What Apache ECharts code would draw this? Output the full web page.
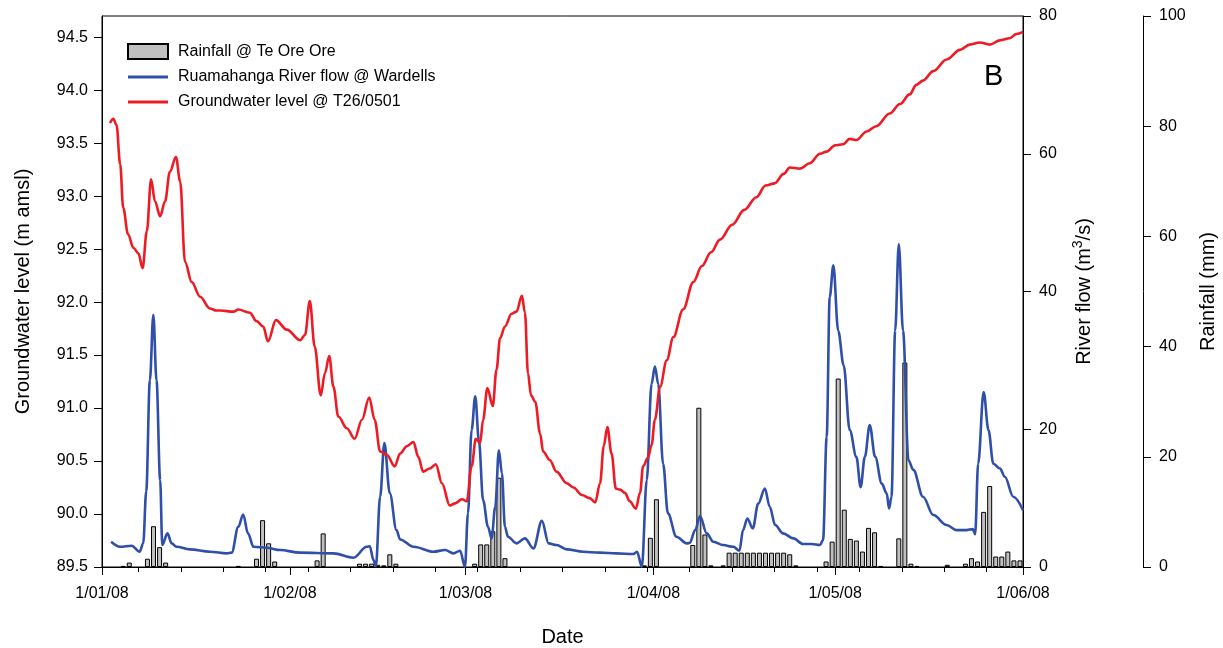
<!DOCTYPE html>
<html>
<head>
<meta charset="utf-8">
<script src="https://cdn.jsdelivr.net/npm/echarts@6/dist/echarts.min.js"></script>
<style>
  html, body { margin: 0; padding: 0; background: #ffffff; }
  #chart { width: 1223px; height: 648px; }
</style>
</head>
<body>
<div id="chart"></div>
<script>
// x values are days elapsed since 1 January 2008 (00:00)

// Daily rainfall at Te Ore Ore (mm), days with rain only
const rainDates = [
  '2008-01-04','2008-01-05','2008-01-08','2008-01-09','2008-01-10','2008-01-11',
  '2008-01-23','2008-01-26','2008-01-27','2008-01-28','2008-01-29',
  '2008-02-05','2008-02-06','2008-02-12','2008-02-13','2008-02-14','2008-02-15',
  '2008-02-16','2008-02-17','2008-02-18',
  '2008-03-02','2008-03-03','2008-03-04','2008-03-05','2008-03-06','2008-03-07',
  '2008-03-30','2008-03-31',
  '2008-04-01','2008-04-07','2008-04-08','2008-04-09','2008-04-10','2008-04-12',
  '2008-04-13','2008-04-14','2008-04-15','2008-04-16','2008-04-17','2008-04-18',
  '2008-04-19','2008-04-20','2008-04-21','2008-04-22','2008-04-23','2008-04-24',
  '2008-04-29','2008-04-30',
  '2008-05-01','2008-05-02','2008-05-03','2008-05-04','2008-05-05','2008-05-06',
  '2008-05-07','2008-05-08','2008-05-11','2008-05-12','2008-05-13','2008-05-14',
  '2008-05-19','2008-05-22','2008-05-23','2008-05-24','2008-05-25','2008-05-26',
  '2008-05-27','2008-05-28','2008-05-29','2008-05-30','2008-05-31'
];
const rainMm = [
  0.2, 0.8, 1.5, 7.4, 3.6, 0.8,
  0.2, 1.5, 8.5, 4.3, 1.0,
  1.2, 6.1, 0.6, 0.6, 0.6, 0.4,
  0.3, 2.3, 0.6,
  0.6, 4.1, 4.1, 6.5, 16.2, 1.6,
  0.3, 5.3,
  12.3, 4.0, 28.9, 5.9, 0.3, 0.3,
  2.6, 2.6, 2.6, 2.6, 2.6, 2.6,
  2.6, 2.6, 2.6, 2.6, 2.3, 0.3,
  1.0, 4.6,
  34.2, 10.4, 5.1, 4.8, 2.8, 7.1,
  6.3, 0.2, 5.2, 37.1, 0.6, 0.2,
  0.4, 0.6, 1.6, 1.0, 10.0, 14.7,
  1.9, 1.9, 2.8, 1.2, 1.2
];

// Ruamahanga River flow at Wardells (m3/s)
const flowDay = [
  1.5, 3.0, 4.9, 6.2, 6.8, 7.3, 7.9, 8.47, 9.0, 9.6, 9.95, 10.8, 11.5, 12.3, 14.5,
  17.8, 20.6, 21.4, 22.5, 23.3, 24.1, 25.0, 27.2, 29.4, 32.7, 38.2, 41.5, 43.7,
  44.2, 44.8, 45.2, 45.9, 46.6, 47.5, 48.6, 49.2, 51.4, 54.7, 56.6, 58.0, 59.1,
  59.9, 60.4, 61.0, 61.6, 62.2, 62.9, 63.7, 64.3, 64.9, 65.5, 66.0, 66.5, 67.0,
  68.4, 69.8, 71.2, 72.6, 73.7, 75.0, 76.7, 79.4, 82.2, 84.9, 87.7, 88.3, 89.1,
  89.9, 90.7, 91.25, 91.8, 92.6, 93.4, 94.8, 96.5, 97.0, 97.9, 98.7, 99.8, 100.9,
  102.5, 104.2, 105.2, 105.8, 106.5, 107.4, 108.3, 109.4, 110.2, 111.1, 112.4,
  114.1, 115.7, 117.1, 118.5, 119.0, 119.6, 120.1, 120.7, 121.5, 122.4, 123.4,
  124.5, 125.2, 125.9, 126.7, 127.6, 128.7, 129.5, 129.9, 130.3, 130.9, 131.5,
  132.2, 133.1, 133.9, 135.5, 137.2, 139.4, 141.0, 142.7, 143.7, 144.1, 144.6,
  145.5, 146.3, 147.1, 148.2, 149.0, 150.4, 152.0
];
const flowVal = [
  3.67, 2.94, 3.09, 2.22, 3.43, 11.0, 27.1, 36.6, 27.1, 12.6, 3.19, 4.88, 3.43, 2.94, 2.56,
  2.22, 1.98, 2.08, 5.84, 7.63, 4.88, 2.94, 2.80, 2.46, 2.08, 1.98, 1.35, 2.94,
  3.00, 1.01, 0.10, 10.2, 18.0, 10.7, 5.36, 4.0, 2.94, 2.22, 2.46, 1.98, 2.37,
  0.05, 7.78, 19.9, 24.8, 18.4, 9.7, 5.84, 4.15, 8.74, 16.96, 13.6, 5.84, 4.4,
  3.43, 4.15, 2.70, 6.70, 3.43, 3.19, 2.56, 2.22, 2.08, 1.98, 1.88, 2.22, 0.05,
  12.6, 26.6, 29.1, 26.6, 15.0, 7.78, 4.40, 3.43, 3.50, 5.36, 7.40, 4.88, 3.67,
  3.19, 2.94, 2.37, 5.36, 7.05, 5.60, 9.20, 11.4, 8.74, 6.09, 4.88,
  4.15, 3.33, 3.33, 3.19, 3.91, 18.9, 39.2, 43.8, 34.3, 29.3, 19.9,
  16.0, 11.6, 16.0, 20.6, 16.0, 12.1, 10.7, 8.5, 10.2, 34.3, 46.9,
  34.3, 15.5, 14.1, 10.2, 7.54, 6.09, 5.36, 5.36, 5.50, 4.78, 15.0,
  25.4, 19.9, 15.0, 14.3, 13.1, 10.2, 8.26
];

// Groundwater level at T26/0501 (m amsl)
const gwDay = [
  1.32, 1.87, 2.4, 3.0, 3.5, 4.3, 5.2, 6.0, 6.7, 7.4, 8.1, 8.75, 9.6, 10.4, 11.2,
  12.2, 12.9, 13.7, 14.8, 16.2, 17.8, 18.9, 19.5, 21.7, 22.5, 24.4, 25.5, 26.6,
  27.4, 28.7, 30.5, 32.7, 33.5, 34.3, 35.1, 36.1, 36.8, 37.5, 38.2, 39.0, 40.4,
  41.7, 42.9, 44.1, 45.0, 45.9, 47.0, 48.3, 49.2, 50.3, 51.4, 52.2, 53.0, 54.1,
  55.1, 56.1, 57.4, 58.3, 59.4, 60.2, 61.0, 61.7, 62.4, 62.9, 63.6, 64.5, 65.1,
  65.7, 66.5, 67.6, 68.4, 69.3, 69.8, 70.3, 70.8, 71.5, 72.3, 72.8, 73.9, 75.0,
  76.7, 77.8, 79.2, 80.5, 81.4, 82.2, 82.8, 83.4, 84.1, 84.8, 85.5, 86.3, 87.1,
  88.1, 88.8, 89.3, 90.1, 90.7, 91.25, 92.1, 93.2, 94.3, 95.9, 97.6, 99.0, 100.5,
  102.0, 104.0, 106.0, 108.0, 109.5, 111.0, 112.5, 113.5, 115.2, 116.8, 118.5,
  119.6, 121.0, 122.3, 123.4, 124.5, 126.2, 127.8, 130.0, 131.7, 133.3, 134.4,
  135.5, 137.2, 139.4, 141.6, 143.2, 144.9, 146.5, 148.2, 149.8, 150.9, 152.0
];
const gwVal = [
  93.69, 93.73, 93.67, 93.30, 92.89, 92.64, 92.51, 92.46, 92.32, 92.67, 93.16, 92.95, 92.81, 92.95, 93.23,
  93.37, 93.14, 92.38, 92.19, 92.05, 91.94, 91.92, 91.92, 91.91, 91.93, 91.90, 91.82, 91.77,
  91.63, 91.83, 91.74, 91.64, 91.69, 92.01, 91.58, 91.12, 91.33, 91.49, 91.20, 90.92, 90.81,
  90.71, 90.89, 91.10, 90.89, 90.59, 90.56, 90.45, 90.57, 90.64, 90.68, 90.54, 90.40, 90.43,
  90.47, 90.29, 90.08, 90.10, 90.14, 90.12, 90.45, 90.71, 90.67, 90.89, 91.19, 91.02, 91.36,
  91.66, 91.77, 91.89, 91.91, 92.06, 91.90, 91.33, 91.12, 91.06, 90.76, 90.59, 90.51, 90.40,
  90.29, 90.25, 90.18, 90.15, 90.11, 90.29, 90.64, 90.82, 90.57, 90.24, 90.23, 90.20, 90.12,
  90.05, 90.20, 90.45, 90.53, 90.65, 90.89, 91.20, 91.45, 91.67, 91.93, 92.19, 92.34, 92.47,
  92.59, 92.73, 92.87, 92.99, 93.10, 93.12, 93.21, 93.27, 93.26, 93.31, 93.40,
  93.42, 93.48, 93.49, 93.54, 93.53, 93.61, 93.66, 93.78, 93.87, 93.96, 94.05,
  94.09, 94.18, 94.29, 94.38, 94.43, 94.45, 94.43, 94.47, 94.49, 94.53, 94.55
];

// Axis ticks
const monthDays = [0, 31, 60, 91, 121, 152];
const monthLabels = ['1/01/08', '1/02/08', '1/03/08', '1/04/08', '1/05/08', '1/06/08'];
const weekDays = [6, 13, 20, 27, 34, 41, 48, 55, 62, 69, 76, 83, 90, 97, 104, 111, 118, 125, 132, 139, 146];
const gwTicks = [89.5, 90.0, 90.5, 91.0, 91.5, 92.0, 92.5, 93.0, 93.5, 94.0, 94.5];

const FONT = "'Liberation Sans', Arial, Helvetica, sans-serif";
const DAY0 = Date.UTC(2008, 0, 1);
function dayIndex(s) {
  const p = s.split('-').map(Number);
  return (Date.UTC(p[0], p[1] - 1, p[2]) - DAY0) / 86400000;
}
const zip = (xs, ys) => xs.map((x, i) => [x, ys[i]]);

// each day's rainfall bar sits in the middle of its day
const rainData = rainDates.map((d, i) => [dayIndex(d) + 0.5, rainMm[i]]);

const chart = echarts.init(document.getElementById('chart'), null, { renderer: 'canvas' });

const axisLineStyle = { show: true, onZero: false, lineStyle: { color: '#000', width: 1 } };
const tickStyle = { color: '#000', width: 1 };
const labelStyle = { color: '#000', fontSize: 16, fontFamily: FONT };
const nameStyle = { color: '#000', fontSize: 20, fontFamily: FONT };
const lineIcon = 'path://M0,0H40V3H0Z';

chart.setOption({
  animation: false,
  backgroundColor: '#ffffff',
  textStyle: { fontFamily: FONT },
  grid: {
    left: 102, right: 200, top: 16, bottom: 81,
    outerBoundsMode: 'none', containLabel: false,
    show: true, borderColor: '#000', borderWidth: 1, backgroundColor: 'transparent'
  },
  legend: {
    orient: 'vertical',
    left: 127, top: 43, padding: 0,
    itemWidth: 40, itemHeight: 15, itemGap: 9,
    symbolKeepAspect: true,
    textStyle: { color: '#000', fontSize: 16, fontFamily: FONT, padding: [0, 0, 0, 5] },
    data: [
      { name: 'Rainfall @ Te Ore Ore', icon: 'rect' },
      { name: 'Ruamahanga River flow @ Wardells', icon: lineIcon },
      { name: 'Groundwater level @ T26/0501', icon: lineIcon }
    ]
  },
  xAxis: [
    {
      type: 'value', min: 0, max: 152, position: 'bottom',
      axisLine: axisLineStyle,
      axisTick: { show: true, customValues: monthDays, length: 8, lineStyle: tickStyle },
      axisLabel: {
        show: true, customValues: monthDays, margin: 19, ...labelStyle,
        formatter: v => monthLabels[monthDays.indexOf(v)] || ''
      },
      splitLine: { show: false },
      name: 'Date', nameLocation: 'middle', nameGap: 60, nameTextStyle: nameStyle
    },
    {
      type: 'value', min: 0, max: 152, position: 'bottom', offset: 0,
      axisLine: { show: false, onZero: false },
      axisTick: { show: true, customValues: weekDays, length: 5, lineStyle: tickStyle },
      axisLabel: { show: false },
      splitLine: { show: false }
    }
  ],
  yAxis: [
    {
      type: 'value', position: 'left', min: 89.5, max: 94.7, interval: 0.5,
      axisLine: axisLineStyle,
      axisTick: { show: true, customValues: gwTicks, length: 8, lineStyle: tickStyle },
      axisLabel: { show: true, customValues: gwTicks, margin: 14, ...labelStyle, formatter: v => v.toFixed(1) },
      splitLine: { show: false },
      name: 'Groundwater level (m amsl)', nameLocation: 'middle', nameGap: 69, nameRotate: 90,
      nameTextStyle: nameStyle
    },
    {
      type: 'value', position: 'right', min: 0, max: 80, interval: 20,
      axisLine: axisLineStyle,
      axisTick: { show: true, length: 8, lineStyle: tickStyle },
      axisLabel: { margin: 16, ...labelStyle },
      splitLine: { show: false },
      name: 'River flow (m{sup|3}/s)', nameLocation: 'middle', nameGap: 48, nameRotate: 90,
      nameTextStyle: {
        ...nameStyle,
        rich: { sup: { fontSize: 14, fontFamily: FONT, color: '#000', verticalAlign: 'top', lineHeight: 26 } }
      }
    },
    {
      type: 'value', position: 'right', offset: 120, min: 0, max: 100, interval: 20,
      axisLine: axisLineStyle,
      axisTick: { show: true, length: 8, lineStyle: tickStyle },
      axisLabel: { margin: 16, ...labelStyle },
      splitLine: { show: false },
      name: 'Rainfall (mm)', nameLocation: 'middle', nameGap: 55, nameRotate: 90,
      nameTextStyle: nameStyle
    }
  ],
  graphic: [{
    type: 'text', left: 984, top: 62, z: 100,
    style: { text: 'B', fontSize: 29, fontFamily: FONT, fill: '#000' }
  }],
  series: [
    {
      name: 'Rainfall @ Te Ore Ore', type: 'bar',
      xAxisIndex: 0, yAxisIndex: 2,
      barWidth: 5,
      itemStyle: { color: '#c0c0c0', borderColor: '#000', borderWidth: 1 },
      data: rainData, z: 2
    },
    {
      name: 'Ruamahanga River flow @ Wardells', type: 'line',
      xAxisIndex: 0, yAxisIndex: 1,
      symbol: 'none', smooth: 0.35, smoothMonotone: 'x',
      lineStyle: { color: '#2f4fa8', width: 2.6 },
      itemStyle: { color: '#2f4fa8' },
      data: zip(flowDay, flowVal), z: 3
    },
    {
      name: 'Groundwater level @ T26/0501', type: 'line',
      xAxisIndex: 0, yAxisIndex: 0,
      symbol: 'none', smooth: 0.35, smoothMonotone: 'x',
      lineStyle: { color: '#ed1c24', width: 2.6 },
      itemStyle: { color: '#ed1c24' },
      data: zip(gwDay, gwVal), z: 4
    }
  ]
});
</script>
</body>
</html>
